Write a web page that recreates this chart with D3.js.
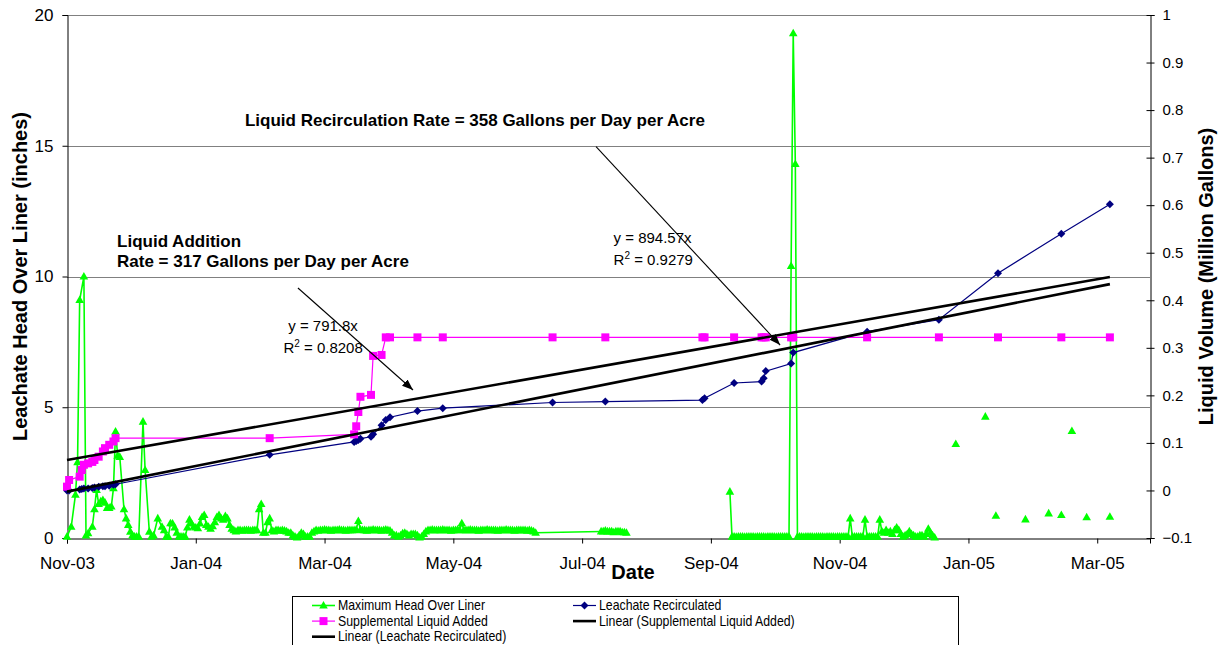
<!DOCTYPE html>
<html>
<head>
<meta charset="utf-8">
<script src="https://cdn.jsdelivr.net/npm/d3@7"></script>
<style>
  body { margin: 0; background: #fff; }
  svg { display: block; font-family: "Liberation Sans", Arial, sans-serif; }
</style>
</head>
<body>
<svg id="chart" width="1225" height="645"></svg>
<script>
// ---- data -------------------------------------------------------------
// Days are counted from the start date; readings with null break the line.
const startDate = "2003-11-01";
const axisEndDay = 513;

// Major ticks of the date axis (61-day steps).
const tickDates = ["2003-11-01", "2004-01-01", "2004-03-02", "2004-05-02", "2004-07-02",
                   "2004-09-01", "2004-11-01", "2005-01-01", "2005-03-03"];

const headTicks = [0, 5, 10, 15, 20];
const volumeTicks = [-0.1, 0, 0.1, 0.2, 0.3, 0.4, 0.5, 0.6, 0.7, 0.8, 0.9, 1];

// Maximum head over liner, inches: [day, value]
const maxHead = [
  [0,0.05],[2,0.43],[4,1.65],[5,2.9],[6,9.1],[8,10.0],[9,0.1],[10,0.18],[12,0.43],[13,1.1],
  [14,1.84],[15,1.3],[16,1.4],[17,1.45],[18,1.35],[19,1.15],[20,1.15],[21,1.2],[22,1.9],[23,4.07],
  [24,3.15],[25,3.1],[27,1.1],[28,0.75],[29,0.5],[30,0.24],[31,0.1],[32,0.05],[33,0.05],[34,0.05],
  [36,4.45],[37,2.6],[39,0.24],[40,0.05],[41,0.1],[43,0.75],[45,0.43],[46,0.3],[47,0.05],[48,0.05],
  [49,0.56],[50,0.55],[51,0.4],[52,0.2],[53,0.05],[54,0.05],[55,0.05],[56,0.05],[57,0.4],[58,0.7],
  [59,0.55],[60,0.43],[61,0.4],[62,0.37],[63,0.55],[64,0.8],[65,0.88],[66,0.5],[67,0.43],[68,0.35],
  [69,0.45],[70,0.6],[71,0.8],[72,0.88],[73,0.75],[74,0.7],[75,0.84],[76,0.75],[77,0.5],[78,0.35],
  [79,0.3],[80,0.25],[81,0.3],[82,0.3],[83,0.28],[84,0.3],[85,0.3],[86,0.3],[87,0.28],[88,0.3],
  [89,0.3],[90,0.3],[91,1.1],[92,1.3],[93,0.2],[94,0.2],[95,0.6],[96,0.75],[97,0.3],[98,0.25],
  [99,0.3],[100,0.3],[101,0.28],[102,0.3],[103,0.28],[104,0.25],[105,0.2],[106,0.2],[107,0.1],[108,0.05],
  [109,0.02],[110,0.1],[111,0.2],[112,0.15],[113,0.05],[114,0.05],[115,0.05],[116,0.2],[117,0.25],[118,0.3],
  [119,0.28],[120,0.3],[121,0.3],[122,0.32],[123,0.3],[124,0.3],[125,0.28],[126,0.3],[127,0.3],[128,0.3],
  [129,0.32],[130,0.3],[131,0.3],[132,0.28],[133,0.3],[134,0.3],[135,0.3],[136,0.3],[137,0.32],[138,0.65],
  [139,0.32],[140,0.3],[141,0.3],[142,0.28],[143,0.3],[144,0.3],[145,0.32],[146,0.3],[147,0.3],[148,0.3],
  [149,0.28],[150,0.3],[151,0.32],[152,0.3],[153,0.28],[154,0.2],[155,0.1],[156,0.1],[157,0.05],[158,0.1],
  [159,0.18],[160,0.2],[161,0.15],[162,0.1],[163,0.15],[164,0.15],[165,0.15],[166,0.1],[167,0.02],[168,0.05],
  [169,0.15],[170,0.25],[171,0.3],[172,0.3],[173,0.32],[174,0.3],[175,0.3],[176,0.3],[177,0.3],[178,0.32],
  [179,0.3],[180,0.3],[181,0.3],[182,0.28],[183,0.3],[184,0.3],[185,0.32],[186,0.3],[187,0.56],[188,0.3],
  [189,0.3],[190,0.3],[191,0.32],[192,0.3],[193,0.3],[194,0.3],[195,0.28],[196,0.3],[197,0.3],[198,0.3],
  [199,0.32],[200,0.3],[201,0.3],[202,0.3],[203,0.3],[204,0.28],[205,0.3],[206,0.3],[207,0.3],[208,0.32],
  [209,0.3],[210,0.3],[211,0.3],[212,0.28],[213,0.3],[214,0.3],[215,0.3],[216,0.3],[217,0.3],[218,0.28],
  [219,0.3],[220,0.28],[221,0.25],[222,0.2],
  [253,0.25],[254,0.25],[255,0.28],[256,0.25],[257,0.25],[258,0.25],[259,0.22],[260,0.25],[261,0.25],
  [262,0.25],[263,0.22],[264,0.22],[265,0.2],
  [266,null],
  [314,1.77],[315,0.05],[316,0.05],[317,0.04],[318,0.05],[319,0.05],[320,0.05],[321,0.04],[322,0.05],
  [323,0.05],[324,0.05],[325,0.05],[326,0.04],[327,0.05],[328,0.05],[329,0.05],[330,0.05],[331,0.04],
  [332,0.05],[333,0.05],[334,0.05],[335,0.05],[336,0.04],[337,0.05],[338,0.05],[339,0.05],[340,0.05],
  [341,0.05],[342,0.05],[343,10.4],[344,19.3],[345,14.3],[346,0.05],[347,0.05],[348,0.05],[349,0.04],
  [350,0.05],[351,0.05],[352,0.05],[353,0.05],[354,0.04],[355,0.05],[356,0.05],[357,0.05],[358,0.05],
  [359,0.04],[360,0.05],[361,0.05],[362,0.05],[363,0.05],[364,0.04],[365,0.05],[366,0.05],[367,0.05],
  [368,0.05],[369,0.05],[370,0.05],[371,0.75],[372,0.05],[373,0.05],[374,0.05],[375,0.05],[376,0.05],
  [377,0.05],[378,0.7],[379,0.05],[380,0.05],[381,0.05],[382,0.05],[383,0.05],[384,0.05],[385,0.7],
  [386,0.25],[387,0.2],[388,0.3],[389,0.2],[390,0.25],[391,0.15],[392,0.3],[393,0.4],[394,0.3],
  [395,0.15],[396,0.05],[397,0.1],[398,0.15],[399,0.25],[400,0.15],[401,0.1],[402,0.05],[403,0.05],
  [404,0.1],[405,0.1],[406,0.05],[407,0.15],[408,0.35],[409,0.2],[410,0.1],[411,0.02],
  [412,null],[421,3.59],[422,null],[435,4.64],[436,null],[440,0.85],[441,null],[454,0.71],[455,null],
  [465,0.94],[466,null],[471,0.88],[472,null],[476,4.09],[477,null],[483,0.79],[484,null],[494,0.81]
];

// Cumulative liquid volumes, million gallons, sampled on the same days.
const liquidDays = [0, 1, 6, 7, 8, 10, 12, 13, 15, 17, 18, 20, 22, 23, 96, 136, 137, 138, 139, 144,
                    145, 149, 151, 153, 166, 178, 230, 255, 301, 302, 316, 329, 330, 331, 343, 344,
                    379, 413, 441, 471, 494];
const leachateRecirculated = [0.000, 0.000, 0.002, 0.003, 0.004, 0.004, 0.005, 0.006, 0.008, 0.009,
                              0.009, 0.010, 0.012, 0.013, 0.075, 0.102, 0.104, 0.106, 0.109, 0.113,
                              0.118, 0.137, 0.148, 0.154, 0.167, 0.173, 0.185, 0.187, 0.190, 0.194,
                              0.226, 0.229, 0.236, 0.251, 0.267, 0.290, 0.334, 0.359, 0.457, 0.540,
                              0.602];
const supplementalAdded = [0.008, 0.022, 0.029, 0.043, 0.054, 0.057, 0.060, 0.064, 0.071, 0.082,
                           0.089, 0.096, 0.103, 0.110, 0.110, 0.118, 0.135, 0.165, 0.197, 0.201,
                           0.283, 0.285, 0.322, 0.322, 0.322, 0.322, 0.322, 0.322, 0.322, 0.322,
                           0.322, 0.322, 0.322, 0.322, 0.322, 0.322, 0.322, 0.322, 0.322, 0.322,
                           0.322];

// Linear trend lines, end points [first day, last day].
const trendDays = [0, 494];
const trendSupplemental = [0.064, 0.449];
const trendLeachate = [-0.0025, 0.434];

// ---- layout -----------------------------------------------------------
const plot = { left: 67, right: 1150, top: 15, bottom: 538 };
const colors = { head: "#00ff00", leachate: "#000080", supplemental: "#ff00ff", trend: "#000", grid: "#808080" };

const svg = d3.select("#chart");
const dayMs = 864e5;
const t0 = Date.parse(startDate);
const toDate = d => new Date(t0 + d * dayMs);

const x = d3.scaleUtc().domain([toDate(0), toDate(axisEndDay)]).range([plot.left, plot.right]);
const yHead = d3.scaleLinear().domain([0, 20]).range([plot.bottom, plot.top]);
const yVol = d3.scaleLinear().domain([-0.1, 1]).range([plot.bottom, plot.top]);

svg.append("rect").attr("width", 1225).attr("height", 645).attr("fill", "#fff");

// horizontal grid lines from the head axis
svg.append("g").selectAll("line").data(headTicks.filter(v => v > 0)).join("line")
  .attr("x1", plot.left).attr("x2", plot.right)
  .attr("y1", d => Math.round(yHead(d)) + 0.5).attr("y2", d => Math.round(yHead(d)) + 0.5)
  .attr("stroke", colors.grid).attr("stroke-width", 1);

// ---- axes -------------------------------------------------------------
const fmt = d3.utcFormat("%b-%y");
const xAxis = svg.append("g").attr("transform", `translate(0,${plot.bottom + 0.5})`)
  .call(d3.axisBottom(x).tickValues(tickDates.map(s => new Date(Date.parse(s))))
    .tickFormat(fmt).tickSize(5).tickPadding(13));
xAxis.selectAll("text").attr("font-size", 17).attr("fill", "#000");

const yAxisL = svg.append("g").attr("transform", `translate(${plot.left + 0.5},0)`)
  .call(d3.axisLeft(yHead).tickValues(headTicks).tickSize(5).tickPadding(9));
yAxisL.selectAll("text").attr("font-size", 17).attr("fill", "#000");

const yAxisR = svg.append("g").attr("transform", `translate(${plot.right + 0.5},0)`)
  .call(d3.axisRight(yVol).tickValues(volumeTicks).tickFormat(d3.format("~g")).tickSize(4).tickPadding(8));
yAxisR.selectAll(".tick line").attr("x1", -4).attr("x2", 4);
yAxisR.selectAll("text").attr("font-size", 15).attr("fill", "#000");

[xAxis, yAxisL, yAxisR].forEach(g => {
  g.select(".domain").attr("stroke", "#000");
  g.selectAll(".tick line").attr("stroke", "#000");
  g.attr("font-family", null);
});

// axis titles
svg.append("text").attr("transform", `translate(27,${(plot.top + plot.bottom) / 2}) rotate(-90)`)
  .attr("text-anchor", "middle").attr("font-size", 20).attr("font-weight", "bold")
  .text("Leachate Head Over Liner (inches)");
svg.append("text").attr("transform", `translate(1213,${(plot.top + plot.bottom) / 2}) rotate(-90)`)
  .attr("text-anchor", "middle").attr("font-size", 20).attr("font-weight", "bold")
  .text("Liquid Volume (Million Gallons)");
svg.append("text").attr("x", 633).attr("y", 579).attr("text-anchor", "middle")
  .attr("font-size", 20).attr("font-weight", "bold").text("Date");

// ---- series -----------------------------------------------------------
const marks = {
  triangle: "M0,-4.6L4.3,3L-4.3,3Z",
  diamond: "M0,-4L4,0L0,4L-4,0Z",
  square: "M-4,-4H4V4H-4Z"
};

// maximum head over liner (left axis)
const headLine = d3.line().defined(p => p[1] != null)
  .x(p => x(toDate(p[0]))).y(p => yHead(p[1]));
svg.append("path").datum(maxHead).attr("d", headLine)
  .attr("fill", "none").attr("stroke", colors.head).attr("stroke-width", 1.6);
svg.append("g").selectAll("path").data(maxHead.filter(p => p[1] != null)).join("path")
  .attr("d", marks.triangle).attr("fill", colors.head)
  .attr("transform", p => `translate(${x(toDate(p[0]))},${yHead(p[1])})`);

// volume series (right axis)
function drawVolume(values, color, mark, width) {
  const pts = liquidDays.map((d, i) => [d, values[i]]);
  svg.append("path").datum(pts)
    .attr("d", d3.line().x(p => x(toDate(p[0]))).y(p => yVol(p[1])))
    .attr("fill", "none").attr("stroke", color).attr("stroke-width", width);
  svg.append("g").selectAll("path").data(pts).join("path")
    .attr("d", mark).attr("fill", color)
    .attr("transform", p => `translate(${x(toDate(p[0]))},${yVol(p[1])})`);
}
drawVolume(leachateRecirculated, colors.leachate, marks.diamond, 1.2);
drawVolume(supplementalAdded, colors.supplemental, marks.square, 1.2);

// linear trends
[trendSupplemental, trendLeachate].forEach(vals => {
  svg.append("line")
    .attr("x1", x(toDate(trendDays[0]))).attr("y1", yVol(vals[0]))
    .attr("x2", x(toDate(trendDays[1]))).attr("y2", yVol(vals[1]))
    .attr("stroke", colors.trend).attr("stroke-width", 2.6);
});

// ---- annotations ------------------------------------------------------
svg.append("defs").append("marker").attr("id", "arrowhead")
  .attr("viewBox", "0 0 10 10").attr("refX", 10).attr("refY", 5)
  .attr("markerWidth", 10).attr("markerHeight", 10).attr("orient", "auto")
  .append("path").attr("d", "M0,1.2L10,5L0,8.8Z").attr("fill", "#000");

const arrows = [
  { from: [109.4, 9.56], to: [163.9, 5.66] },
  { from: [250.6, 14.97], to: [337.8, 7.38] }
];
arrows.forEach(a => {
  svg.append("line")
    .attr("x1", x(toDate(a.from[0]))).attr("y1", yHead(a.from[1]))
    .attr("x2", x(toDate(a.to[0]))).attr("y2", yHead(a.to[1]))
    .attr("stroke", "#000").attr("stroke-width", 1.1).attr("marker-end", "url(#arrowhead)");
});

const rateNotes = [
  { day: 84.3, head: 15.76, lines: ["Liquid Recirculation Rate = 358 Gallons per Day per Acre"] },
  { day: 23.7, head: 11.12, lines: ["Liquid Addition", "Rate = 317 Gallons per Day per Acre"] }
];
rateNotes.forEach(n => {
  const t = svg.append("text").attr("x", x(toDate(n.day))).attr("y", yHead(n.head))
    .attr("font-size", 17).attr("font-weight", "bold");
  n.lines.forEach((s, i) => t.append("tspan").attr("x", x(toDate(n.day))).attr("dy", i ? 20 : 0).text(s));
});

const fitNotes = [
  { day: 104.8, head: 7.9, eq: "y = 791.8x", rDay: 102.5, r2: "0.8208" },
  { day: 258.9, head: 11.27, eq: "y = 894.57x", rDay: 258.9, r2: "0.9279" }
];
fitNotes.forEach(n => {
  svg.append("text").attr("x", x(toDate(n.day))).attr("y", yHead(n.head))
    .attr("font-size", 15).text(n.eq);
  const r = svg.append("text").attr("x", x(toDate(n.rDay))).attr("y", yHead(n.head) + 21.5)
    .attr("font-size", 15);
  r.append("tspan").text("R");
  r.append("tspan").attr("font-size", 10).attr("dy", -6).text("2");
  r.append("tspan").attr("dy", 6).text(" = " + n.r2);
});

// ---- legend -----------------------------------------------------------
const legendItems = [
  { label: "Maximum Head Over Liner", color: colors.head, mark: marks.triangle, w: 1.6, col: 0, row: 0 },
  { label: "Leachate Recirculated", color: colors.leachate, mark: marks.diamond, w: 1.2, col: 1, row: 0 },
  { label: "Supplemental Liquid Added", color: colors.supplemental, mark: marks.square, w: 1.2, col: 0, row: 1 },
  { label: "Linear (Supplemental Liquid Added)", color: colors.trend, mark: null, w: 2.6, col: 1, row: 1 },
  { label: "Linear (Leachate Recirculated)", color: colors.trend, mark: null, w: 2.6, col: 0, row: 2 }
];
const legend = svg.append("g");
legend.append("rect").attr("x", 292.5).attr("y", 596.5).attr("width", 666).attr("height", 70)
  .attr("fill", "#fff").attr("stroke", "#000").attr("stroke-width", 1);
const colX = [312, 573];
legendItems.forEach(it => {
  const gx = colX[it.col], gy = 605.5 + it.row * 15.6;
  const g = legend.append("g");
  g.append("line").attr("x1", gx).attr("x2", gx + 23).attr("y1", gy).attr("y2", gy)
    .attr("stroke", it.color).attr("stroke-width", it.w);
  if (it.mark) g.append("path").attr("d", it.mark).attr("fill", it.color)
    .attr("transform", `translate(${gx + 11.5},${gy})`);
  g.append("text").attr("x", gx + 26).attr("y", gy + 4.5).attr("font-size", 14)
    .attr("transform", `translate(${(gx + 26) * (1 - 0.88)},0) scale(0.88,1)`)
    .text(it.label);
});
</script>
</body>
</html>
